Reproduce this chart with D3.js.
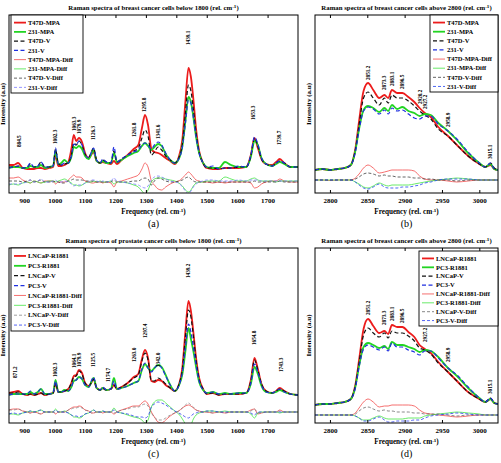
<!DOCTYPE html>
<html><head><meta charset="utf-8">
<script src="https://cdnjs.cloudflare.com/ajax/libs/d3/7.8.5/d3.min.js"></script>
<style>body{margin:0;background:#fff}svg{display:block}</style>
</head><body><svg id="c" width="501" height="463"></svg>
<script>
// ---------- DATA ----------
const lowFreq = [850,865,880,895,910,920,932,945,955,968,982,995,1003,1012,1022,1032,1045,1055,1063,1071,1080,1090,1100,1112,1122,1128,1138,1150,1158,1170,1185,1195,1205,1220,1240,1260,1275,1287,1297,1307,1318,1328,1340,1352,1365,1380,1395,1408,1420,1430,1440,1448,1456,1465,1475,1488,1500,1520,1540,1560,1580,1605,1630,1645,1657,1668,1680,1695,1715,1728,1740,1755,1775,1800];
const highFreq = [2780,2790,2800,2810,2820,2828,2834,2839,2845,2851,2858,2866,2873,2878,2883,2890,2897,2905,2913,2920,2927,2935,2945,2958,2970,2985,3000,3008,3015,3020,3025];
const lowTicks = [900,1000,1100,1200,1300,1400,1500,1600,1700];
const highTicks = [2800,2850,2900,2950,3000];

// (a) breast below 1800
const aT47dMpa = [0.6,0.6,0.8,0.3,0.2,0.2,0.2,0.3,0.3,0.2,0.3,0.4,1.6,0.5,0.5,0.6,0.9,2.2,3.6,3.0,3.3,2.9,1.8,1.3,1.7,1.9,1.0,0.8,0.9,0.8,0.7,1.0,0.7,1.1,1.6,2.2,2.6,4.3,5.6,4.6,2.2,1.9,1.8,1.6,1.3,1.0,0.7,1.4,3.2,7.0,10.3,9.4,7.2,4.2,2.0,0.8,0.3,0.2,0.2,0.3,0.3,0.3,0.4,1.6,3.3,2.3,1.2,0.7,0.6,0.9,1.2,0.8,0.4,0.4];
const a231Mpa = [0.3,0.4,0.4,0.3,0.3,0.5,0.4,0.4,0.6,0.3,0.4,0.5,2.0,0.7,0.8,1.1,0.8,1.4,2.4,2.3,2.5,2.2,1.5,1.2,1.8,2.1,1.0,0.8,1.0,0.8,0.8,1.8,0.9,1.1,1.5,1.8,2.0,2.5,2.8,2.5,2.1,2.4,2.7,2.5,1.7,1.1,0.8,1.2,2.5,5.0,7.4,6.9,5.4,3.4,1.8,0.8,0.4,0.3,0.3,0.9,0.6,0.4,0.4,1.4,3.0,2.6,1.3,0.7,0.5,0.7,0.9,0.7,0.4,0.4];
const aT47dV = [0.4,0.4,0.5,0.3,0.4,0.7,0.4,0.5,0.9,0.4,0.4,0.5,2.2,0.7,0.6,0.7,0.8,1.6,2.8,2.6,3.0,2.6,1.7,1.4,2.0,2.3,1.1,0.8,1.1,0.9,0.8,2.0,0.9,1.2,1.6,2.0,2.3,3.3,4.1,3.5,1.6,1.9,2.4,2.1,1.5,1.1,0.8,1.3,2.7,5.8,8.6,8.0,6.2,3.8,1.9,0.8,0.3,0.3,0.2,0.3,0.3,0.4,0.4,1.5,3.3,2.5,1.2,0.7,0.5,0.8,1.0,0.8,0.4,0.4];
const a231V = [0.3,0.4,0.5,0.3,0.4,0.8,0.4,0.5,0.9,0.4,0.4,0.5,2.3,0.7,0.6,0.8,0.8,1.5,2.7,2.6,3.0,2.6,1.7,1.3,2.0,2.3,1.1,0.8,1.2,0.9,0.8,2.4,0.9,1.2,1.6,1.9,2.1,2.6,2.8,2.6,2.2,2.6,2.9,2.6,1.8,1.1,0.8,1.2,2.4,4.8,7.1,6.8,5.4,3.4,1.8,0.8,0.4,0.5,0.2,0.3,0.3,0.5,0.4,1.6,3.4,2.7,1.3,0.7,0.5,0.8,1.0,0.8,0.4,0.4];
const aT47dMpaDiff = [-0.7,-0.7,-0.6,-0.9,-1.1,-1.2,-1.0,-1.1,-1.2,-1.0,-1.0,-1.0,-1.3,-1.1,-1.1,-1.1,-0.9,-0.6,-0.4,-0.6,-0.6,-0.7,-1.0,-1.1,-1.2,-1.2,-1.1,-1.1,-1.2,-1.1,-1.2,-1.6,-1.1,-1.0,-0.8,-0.6,-0.4,0.2,0.8,0.4,-1.0,-1.4,-1.8,-1.9,-1.6,-1.3,-1.1,-1.0,-0.7,-0.4,-0.1,-0.3,-0.6,-0.9,-1.0,-1.1,-1.1,-1.2,-1.1,-1.2,-1.1,-1.1,-1.1,-1.2,-1.7,-1.6,-1.3,-1.1,-1.0,-1.0,-0.8,-1.0,-1.1,-1.1];
const a231MpaDiff = [-1.4,-1.3,-1.4,-1.2,-1.1,-1.2,-1.0,-1.1,-1.2,-1.1,-1.0,-1.0,-1.1,-1.0,-0.9,-0.8,-1.0,-1.2,-1.4,-1.4,-1.5,-1.4,-1.2,-1.1,-1.1,-1.0,-1.1,-1.0,-1.1,-1.1,-1.0,-1.3,-1.1,-1.1,-1.2,-1.4,-1.6,-2.0,-2.3,-1.9,-1.1,-0.8,-0.7,-0.7,-0.8,-0.9,-1.0,-1.2,-1.5,-1.9,-2.1,-1.9,-1.5,-1.2,-1.1,-1.1,-1.0,-1.0,-1.0,-0.6,-0.8,-1.0,-1.0,-0.8,-0.7,-0.9,-1.0,-1.0,-1.0,-1.1,-1.0,-1.0,-1.0,-1.0];
const aT47dVDiff = [-1.0,-1.0,-1.0,-1.1,-1.0,-0.9,-1.1,-1.0,-0.9,-1.1,-1.1,-1.1,-1.0,-1.1,-1.2,-1.2,-1.0,-0.9,-0.8,-0.9,-0.9,-0.9,-1.0,-1.0,-1.0,-1.0,-1.1,-1.1,-1.1,-1.1,-1.1,-0.9,-1.1,-1.1,-1.1,-1.0,-1.0,-0.8,-0.7,-0.8,-1.4,-1.0,-0.7,-0.8,-1.0,-1.1,-1.1,-1.0,-0.9,-0.7,-0.6,-0.8,-1.0,-1.1,-1.1,-1.1,-1.1,-1.1,-1.1,-1.1,-1.1,-1.1,-1.1,-1.1,-1.0,-1.1,-1.1,-1.1,-1.1,-1.1,-1.0,-1.1,-1.1,-1.1];
const a231VDiff = [-1.3,-1.3,-1.3,-1.2,-1.1,-0.9,-1.1,-1.0,-0.8,-1.1,-1.1,-1.0,-0.9,-1.1,-1.1,-1.0,-1.1,-1.3,-1.5,-1.4,-1.4,-1.4,-1.2,-1.1,-0.9,-0.9,-1.0,-1.1,-1.0,-1.1,-1.0,-0.7,-1.0,-1.1,-1.2,-1.3,-1.4,-1.6,-1.7,-1.5,-0.9,-0.6,-0.5,-0.6,-0.8,-1.0,-1.1,-1.2,-1.6,-2.0,-2.3,-2.0,-1.6,-1.3,-1.1,-1.0,-0.9,-0.9,-1.0,-1.0,-1.0,-0.9,-1.0,-0.9,-0.9,-0.9,-1.0,-1.0,-1.0,-1.0,-1.0,-1.0,-1.0,-1.0];

// (b) breast above 2800
const bT47dMpa = [0.1,0.2,0.1,0.2,0.3,0.6,2.2,5.0,8.0,8.8,8.1,7.3,7.6,7.3,8.1,7.8,7.8,7.4,6.9,6.3,5.8,5.4,4.4,3.5,2.6,1.5,0.7,0.4,0.6,0.2,0.1];
const b231Mpa = [0.1,0.2,0.1,0.2,0.3,0.6,2.0,4.2,6.1,6.5,6.3,5.9,6.3,6.0,6.6,6.2,6.4,6.0,5.8,5.5,5.7,5.6,4.8,4.0,3.1,1.8,0.8,0.4,0.7,0.2,0.1];
const bT47dV = [0.1,0.2,0.1,0.2,0.3,0.6,2.1,4.6,7.3,7.9,7.3,6.6,7.3,6.8,7.6,7.3,7.3,7.0,6.5,6.0,5.6,5.2,4.2,3.5,2.6,1.5,0.7,0.4,0.8,0.3,0.1];
const b231V = [0.1,0.2,0.1,0.2,0.3,0.6,1.9,4.1,6.0,6.4,6.2,5.7,6.1,5.7,6.3,6.0,6.1,5.7,5.3,5.2,5.5,5.5,4.7,4.0,3.2,1.9,0.8,0.4,0.8,0.2,0.1];
const bT47dMpaDiff = [-0.9,-0.9,-0.95,-0.9,-0.9,-0.9,-0.7,-0.3,0.3,0.6,0.3,-0.2,-0.1,0.0,0.1,0.1,0.1,0.1,0.0,-0.5,-0.8,-0.9,-0.9,-1.0,-1.1,-1.0,-0.9,-0.9,-0.9,-0.9,-0.9];
const b231MpaDiff = [-0.9,-0.9,-0.9,-0.9,-0.9,-0.9,-1.1,-1.3,-1.6,-1.7,-1.5,-1.2,-1.4,-1.5,-1.4,-1.4,-1.4,-1.4,-1.3,-1.2,-1.1,-1.0,-0.9,-0.8,-0.7,-0.8,-0.9,-0.9,-0.9,-0.9,-0.9];
const bT47dVDiff = [-0.9,-0.9,-0.9,-0.9,-0.9,-0.9,-0.8,-0.6,-0.3,-0.2,-0.3,-0.5,-0.4,-0.5,-0.5,-0.6,-0.6,-0.6,-0.7,-0.7,-0.8,-0.8,-0.9,-0.9,-1.0,-0.9,-0.9,-0.9,-0.9,-0.9,-0.9];
const b231VDiff = [-0.9,-0.9,-0.9,-0.9,-0.9,-0.9,-1.1,-1.4,-1.7,-1.8,-1.6,-1.3,-1.6,-1.7,-1.7,-1.7,-1.6,-1.6,-1.5,-1.4,-1.2,-1.1,-0.9,-0.8,-0.8,-0.8,-0.9,-0.9,-0.9,-0.9,-0.9];

// (c) prostate below 1800
const cLncapR = [0.4,0.5,0.6,0.3,0.2,0.3,0.2,0.3,0.4,0.2,0.3,0.4,1.4,0.5,0.5,0.6,0.8,1.4,2.1,2.2,2.7,2.4,1.4,1.1,1.5,1.8,0.9,0.7,0.9,0.7,0.8,1.2,0.8,1.0,1.4,2.0,2.3,3.8,4.7,3.9,1.6,1.5,1.7,1.6,1.2,0.9,0.6,1.2,3.0,6.6,9.6,8.6,6.5,3.9,1.9,0.8,0.3,0.4,0.2,0.3,0.3,0.3,0.4,1.7,3.9,2.8,1.3,0.6,0.4,0.6,0.9,0.6,0.3,0.2];
const cPc3R = [0.2,0.3,0.3,0.3,0.3,0.5,0.3,0.5,0.8,0.3,0.3,0.4,1.7,0.5,0.5,0.7,0.6,1.0,1.6,1.7,2.0,1.8,1.2,1.0,1.6,1.9,0.9,0.7,0.9,0.7,0.8,1.9,0.8,0.9,1.1,1.4,1.6,2.7,3.3,2.9,2.6,2.9,3.2,3.0,2.2,1.2,0.6,1.1,2.3,4.6,6.9,5.8,4.6,3.0,1.5,0.7,0.4,0.5,0.3,0.4,0.3,0.4,0.4,1.3,3.0,2.3,1.1,0.5,0.4,0.5,0.7,0.5,0.3,0.2];
const cLncapV = [0.4,0.4,0.5,0.3,0.2,0.3,0.2,0.3,0.4,0.2,0.3,0.4,1.4,0.5,0.5,0.6,0.8,1.4,2.0,2.1,2.6,2.3,1.4,1.1,1.5,1.8,0.9,0.7,0.9,0.7,0.8,1.2,0.8,1.0,1.4,1.9,2.2,3.6,4.4,3.7,1.6,1.6,1.9,1.7,1.3,0.9,0.6,1.2,2.8,6.0,8.7,8.0,6.1,3.7,1.8,0.8,0.3,0.4,0.2,0.3,0.3,0.3,0.4,1.6,3.7,2.7,1.3,0.6,0.4,0.6,0.8,0.6,0.3,0.2];
const cPc3V = [0.2,0.3,0.3,0.3,0.3,0.6,0.3,0.5,0.8,0.3,0.3,0.4,1.6,0.5,0.5,0.6,0.6,1.0,1.6,1.7,2.0,1.8,1.2,1.0,1.7,2.0,0.9,0.7,1.0,0.7,0.8,1.6,0.8,0.9,1.1,1.4,1.6,2.8,3.4,2.9,2.5,2.9,3.2,2.9,2.1,1.2,0.6,1.1,2.5,5.0,7.3,6.5,5.0,3.2,1.6,0.7,0.4,0.5,0.3,0.3,0.3,0.4,0.4,1.4,3.3,2.5,1.2,0.5,0.4,0.6,0.8,0.5,0.3,0.2];
const cLncapRDiff = [-1.3,-1.2,-1.2,-1.4,-1.5,-1.6,-1.5,-1.6,-1.7,-1.5,-1.5,-1.5,-1.7,-1.5,-1.5,-1.5,-1.3,-1.1,-1.0,-1.0,-0.9,-1.0,-1.3,-1.4,-1.6,-1.6,-1.5,-1.5,-1.6,-1.5,-1.5,-1.7,-1.5,-1.3,-1.1,-0.9,-0.9,-0.6,-0.4,-0.7,-1.5,-2.0,-2.5,-2.6,-2.3,-1.9,-1.6,-1.4,-1.1,-0.9,-0.8,-0.9,-1.1,-1.3,-1.4,-1.5,-1.5,-1.6,-1.5,-1.6,-1.5,-1.5,-1.5,-1.3,-1.2,-1.7,-1.6,-1.5,-1.5,-1.5,-1.3,-1.5,-1.5,-1.5];
const cPc3RDiff = [-1.7,-1.7,-1.8,-1.6,-1.5,-1.4,-1.5,-1.4,-1.3,-1.5,-1.5,-1.5,-1.2,-1.5,-1.5,-1.4,-1.6,-1.8,-2.0,-2.0,-2.1,-2.0,-1.7,-1.6,-1.4,-1.3,-1.5,-1.5,-1.4,-1.5,-1.5,-1.1,-1.5,-1.6,-1.8,-2.0,-2.1,-2.3,-2.6,-2.3,-1.0,-0.5,-0.3,-0.3,-0.6,-1.0,-1.4,-1.7,-2.2,-2.7,-3.0,-2.8,-2.2,-1.8,-1.6,-1.5,-1.4,-1.4,-1.5,-1.4,-1.5,-1.5,-1.5,-1.7,-2.1,-1.6,-1.5,-1.5,-1.5,-1.5,-1.6,-1.5,-1.5,-1.5];
const cLncapVDiff = [-1.3,-1.3,-1.2,-1.4,-1.5,-1.6,-1.5,-1.6,-1.7,-1.5,-1.5,-1.5,-1.6,-1.5,-1.5,-1.5,-1.3,-1.2,-1.1,-1.1,-1.0,-1.1,-1.3,-1.4,-1.6,-1.6,-1.5,-1.5,-1.6,-1.5,-1.5,-1.6,-1.5,-1.3,-1.2,-1.0,-1.0,-0.8,-0.7,-0.9,-1.6,-2.0,-2.3,-2.3,-2.1,-1.8,-1.6,-1.4,-1.1,-0.8,-0.6,-0.8,-1.0,-1.3,-1.4,-1.5,-1.5,-1.6,-1.5,-1.6,-1.5,-1.5,-1.5,-1.4,-1.2,-1.6,-1.6,-1.5,-1.5,-1.5,-1.4,-1.5,-1.5,-1.5];
const cPc3VDiff = [-1.7,-1.6,-1.7,-1.6,-1.5,-1.4,-1.5,-1.4,-1.3,-1.5,-1.5,-1.5,-1.3,-1.5,-1.5,-1.5,-1.6,-1.8,-1.9,-1.9,-2.0,-1.9,-1.7,-1.6,-1.4,-1.3,-1.5,-1.5,-1.4,-1.5,-1.5,-1.3,-1.5,-1.6,-1.7,-1.9,-2.0,-2.0,-2.1,-1.9,-1.0,-0.7,-0.5,-0.6,-0.8,-1.1,-1.4,-1.6,-1.8,-2.0,-2.1,-1.9,-1.7,-1.6,-1.5,-1.5,-1.4,-1.4,-1.5,-1.5,-1.5,-1.5,-1.5,-1.6,-1.8,-1.5,-1.5,-1.5,-1.5,-1.5,-1.5,-1.5,-1.5,-1.5];

// (d) prostate above 2800
const dLncapR = [0.0,0.1,0.1,0.2,0.3,0.6,2.0,4.5,7.6,8.6,7.9,7.2,7.4,7.1,8.0,7.8,7.8,7.3,6.8,6.0,5.6,5.2,4.3,3.3,2.4,1.3,0.6,0.3,0.6,0.2,0.1];
const dPc3R = [0.0,0.1,0.1,0.2,0.3,0.6,1.8,3.9,5.8,6.2,6.0,5.7,5.9,5.6,6.3,6.0,6.0,5.8,5.6,5.3,5.5,5.4,4.8,3.7,2.9,1.7,0.7,0.3,0.6,0.2,0.1];
const dLncapV = [0.0,0.1,0.1,0.2,0.3,0.6,1.9,4.2,7.0,7.7,7.2,6.8,7.2,6.7,7.4,7.2,7.2,6.9,6.4,5.7,5.5,5.1,4.2,3.3,2.4,1.3,0.6,0.3,0.7,0.2,0.1];
const dPc3V = [0.0,0.1,0.1,0.2,0.3,0.6,1.7,3.8,5.6,6.0,5.8,5.5,5.8,5.4,6.2,5.8,5.8,5.5,5.3,5.0,5.4,5.4,4.7,3.7,3.0,1.8,0.7,0.3,0.7,0.2,0.1];
const dLncapRDiff = [-1.0,-1.0,-1.0,-1.0,-1.0,-1.0,-0.8,-0.3,0.3,0.6,0.3,-0.2,-0.1,-0.1,0.0,0.0,0.0,0.0,-0.1,-0.5,-0.8,-0.9,-1.0,-1.1,-1.2,-1.1,-1.0,-1.0,-1.0,-1.0,-1.0];
const dPc3RDiff = [-1.0,-1.0,-1.0,-1.0,-1.0,-1.0,-1.1,-1.3,-1.5,-1.5,-1.3,-1.1,-1.3,-1.4,-1.4,-1.4,-1.4,-1.3,-1.3,-1.3,-1.1,-1.0,-0.9,-0.8,-0.7,-0.8,-0.9,-1.0,-1.0,-1.0,-1.0];
const dLncapVDiff = [-1.0,-1.0,-1.0,-1.0,-1.0,-1.0,-0.9,-0.6,-0.3,-0.2,-0.4,-0.6,-0.5,-0.6,-0.6,-0.7,-0.7,-0.7,-0.8,-0.8,-0.9,-0.9,-0.9,-1.0,-1.1,-1.0,-1.0,-1.0,-1.0,-1.0,-1.0];
const dPc3VDiff = [-1.0,-1.0,-1.0,-1.0,-1.0,-1.0,-1.1,-1.3,-1.6,-1.6,-1.4,-1.2,-1.5,-1.7,-1.7,-1.6,-1.6,-1.6,-1.5,-1.5,-1.3,-1.1,-1.0,-0.9,-0.8,-0.9,-1.0,-1.0,-1.0,-1.0,-1.0];

// legends
const legendA = ["T47D-MPA","231-MPA","T47D-V","231-V","T47D-MPA-Diff","231-MPA-Diff","T47D-V-Diff","231-V-Diff"];
const legendC = ["LNCaP-R1881","PC3-R1881","LNCaP-V","PC3-V","LNCaP-R1881-Diff","PC3-R1881-Diff","LNCaP-V-Diff","PC3-V-Diff"];

// titles
const titles = ["Raman spectra of breast cancer cells below 1800 (rel. cm",
                "Raman spectra of breast cancer cells above 2800 (rel. cm",
                "Raman spectra of prostate cancer cells below 1800 (rel. cm",
                "Raman spectra of breast cancer cells above 2800 (rel. cm"];
const panelTags = ["(a)","(b)","(c)","(d)"];

// peak labels
const peaksA = ["884.5","1002.3","1063.3","1079.9","1126.3","1261.8","1295.8","1341.6","1439.1","1653.3","1739.7"];
const peaksAx = [884.5,1002.3,1063.3,1079.9,1126.3,1261.8,1295.8,1341.6,1439.1,1653.3,1739.7];
const peaksAy = [2.4,2.7,4.0,3.7,3.1,3.4,5.9,3.2,12.6,5.1,2.6];
const peaksB = ["2851.2","2873.3","2883.1","2896.5","2920.2","2927.2","2958.9","3015.1"];
const peaksBx = [2851.2,2873.3,2883.1,2896.5,2920.2,2927.2,2958.9,3015.1];
const peaksBy = [9.1,8.1,8.5,8.2,6.7,6.2,4.4,1.2];
const peaksC = ["871.2","1002.3","1064.1","1079.9","1125.5","1174.7","1263.0","1297.4","1342.0","1439.2","1654.8","1743.3"];
const peaksCx = [871.2,1002.3,1064.1,1079.9,1125.5,1174.7,1263.0,1297.4,1342.0,1439.2,1654.8,1743.3];
const peaksCy = [1.9,2.0,2.9,3.0,3.0,1.5,3.5,5.9,3.0,11.9,5.2,2.5];
const peaksD = ["2851.2","2873.3","2883.1","2896.5","2927.2","2958.9","3015.1"];
const peaksDx = [2851.2,2873.3,2883.1,2896.5,2927.2,2958.9,3015.1];
const peaksDy = [9.0,8.0,8.4,8.2,6.3,4.3,1.1];

// ---------- DRAW ----------
const svg = d3.select("#c");
const FONT = "'Liberation Serif','Times New Roman',serif";

const styles = [
  {c:"#ec1c1c", w:1.8, d:null},
  {c:"#22d422", w:1.8, d:null},
  {c:"#111111", w:1.2, d:"4,2.5"},
  {c:"#1f2fe0", w:1.2, d:"4,2.5"},
  {c:"#f24a4a", w:0.8, d:null},
  {c:"#44e444", w:0.8, d:null},
  {c:"#222222", w:0.7, d:"3,2"},
  {c:"#7a7aff", w:0.8, d:"3,2"}
];

const panels = [
  {id:"a", box:[9,298,15,193], xd:[850,1800], yd:[-2.2,15.6], freq:lowFreq, ticks:lowTicks,
   series:[aT47dMpa,a231Mpa,aT47dV,a231V,aT47dMpaDiff,a231MpaDiff,aT47dVDiff,a231VDiff],
   names:legendA, leg:{x:11,y:15,w:72,h:78,pos:"left"}, diffBlue:"#7a7aff", diffBlack:"#222",
   title:titles[0], tag:panelTags[0], pl:peaksA, px:peaksAx, py:peaksAy, titleX:148},
  {id:"b", box:[315,498,15,193], xd:[2780,3025], yd:[-2.2,15.6], freq:highFreq, ticks:highTicks,
   series:[bT47dMpa,b231Mpa,bT47dV,b231V,bT47dMpaDiff,b231MpaDiff,bT47dVDiff,b231VDiff],
   names:legendA, leg:{x:430,y:15,w:68,h:77}, diffBlue:"#2040f0", diffBlack:"#222",
   title:titles[1], tag:panelTags[1], pl:peaksB, px:peaksBx, py:peaksBy, titleX:404},
  {id:"c", box:[9,298,248,423], xd:[850,1800], yd:[-2.6,14.9], freq:lowFreq, ticks:lowTicks,
   series:[cLncapR,cPc3R,cLncapV,cPc3V,cLncapRDiff,cPc3RDiff,cLncapVDiff,cPc3VDiff],
   names:legendC, leg:{x:11,y:248,w:73,h:83}, diffBlue:"#2a3cf0", diffBlack:"#777",
   title:titles[2], tag:panelTags[2], pl:peaksC, px:peaksCx, py:peaksCy, titleX:148},
  {id:"d", box:[315,498,248,423], xd:[2780,3025], yd:[-1.8,15.7], freq:highFreq, ticks:highTicks,
   series:[dLncapR,dPc3R,dLncapV,dPc3V,dLncapRDiff,dPc3RDiff,dLncapVDiff,dPc3VDiff],
   names:legendC, leg:{x:419,y:251,w:79,h:75}, diffBlue:"#2a3cf0", diffBlack:"#555",
   title:titles[3], tag:panelTags[3], pl:peaksD, px:peaksDx, py:peaksDy, titleX:404}
];

function styleFor(p, i) {
  const s = Object.assign({}, styles[i]);
  if (i === 7) s.c = p.diffBlue;
  if (i === 6) s.c = p.diffBlack;
  return s;
}

panels.forEach(p => {
  const [L,R,T,B] = p.box;
  const x = d3.scaleLinear().domain(p.xd).range([L,R]);
  const y = d3.scaleLinear().domain(p.yd).range([B,T]);
  const g = svg.append("g");
  const clipId = "clip-" + p.id;
  svg.append("clipPath").attr("id", clipId).append("rect")
    .attr("x", L).attr("y", T).attr("width", R-L).attr("height", B-T);

  // lines
  const line = d3.line().x(d => x(d[0])).y(d => y(d[1])).curve(d3.curveMonotoneX);
  const lg = g.append("g").attr("clip-path", `url(#${clipId})`);
  const order = [4,5,6,7,0,1,2,3];
  order.forEach(i => {
    const s = styleFor(p, i);
    const pts = p.freq.map((f, k) => [f, p.series[i][k]]);
    lg.append("path").attr("d", line(pts)).attr("fill","none")
      .attr("stroke", s.c).attr("stroke-width", s.w)
      .attr("stroke-dasharray", s.d).attr("stroke-linejoin","round");
  });

  // frame
  g.append("rect").attr("x", L).attr("y", T).attr("width", R-L).attr("height", B-T)
    .attr("fill","none").attr("stroke","#000").attr("stroke-width",1);

  // axes (bottom + top ticks inward)
  const xb = d3.axisBottom(x).tickValues(p.ticks).tickSize(-3).tickPadding(5).tickFormat(d3.format("d"));
  const ga = g.append("g").attr("transform", `translate(0,${B})`).call(xb);
  ga.select(".domain").remove();
  ga.selectAll("text").attr("font-family", FONT).attr("font-size", 7).attr("font-weight","bold").attr("fill","#000");
  const xt = d3.axisTop(x).tickValues(p.ticks).tickSize(-3).tickFormat("");
  const gt = g.append("g").attr("transform", `translate(0,${T})`).call(xt);
  gt.select(".domain").remove();

  // peak labels
  p.pl.forEach((t, k) => {
    const px = x(p.px[k]), py = y(p.py[k]);
    g.append("text").attr("transform", `translate(${px+1.8},${py}) rotate(-90)`)
      .attr("font-family", FONT).attr("font-size", 5.2).attr("font-weight","bold")
      .attr("text-anchor","start").text(t);
  });

  // title
  const tt = g.append("text").attr("x", (L+R)/2).attr("y", T-5).attr("text-anchor","middle")
    .attr("font-family", FONT).attr("font-size", 6.8).attr("font-weight","bold");
  tt.append("tspan").text(p.title);
  tt.append("tspan").attr("dy", -2.5).attr("font-size", 5).text("-1");
  tt.append("tspan").attr("dy", 2.5).text(")");

  // x label
  const xl = g.append("text").attr("x", (L+R)/2).attr("y", B+21).attr("text-anchor","middle")
    .attr("font-family", FONT).attr("font-size", 7.2).attr("font-weight","bold");
  xl.append("tspan").text("Frequency (rel. cm");
  xl.append("tspan").attr("dy", -2.5).attr("font-size", 5).text("-1");
  xl.append("tspan").attr("dy", 2.5).text(")");

  // y label
  g.append("text").attr("transform", `translate(${L-4},${(T+B)/2}) rotate(-90)`)
    .attr("text-anchor","middle").attr("font-family", FONT).attr("font-size", 7)
    .attr("font-weight","bold").text("Intensity (a.u)");

  // panel tag
  g.append("text").attr("x", (L+R)/2).attr("y", B+34).attr("text-anchor","middle")
    .attr("font-family", FONT).attr("font-size", 10).text(p.tag);

  // legend
  const lgd = g.append("g");
  lgd.append("rect").attr("x", p.leg.x).attr("y", p.leg.y).attr("width", p.leg.w).attr("height", p.leg.h)
    .attr("fill","#fff").attr("stroke","#000").attr("stroke-width",0.9);
  const rowH = (p.leg.h - 4) / 8;
  p.names.forEach((n, i) => {
    const s = styleFor(p, i);
    const cy = p.leg.y + 2 + rowH*(i+0.5) + 1;
    lgd.append("line").attr("x1", p.leg.x+3).attr("x2", p.leg.x+15).attr("y1", cy).attr("y2", cy)
      .attr("stroke", s.c).attr("stroke-width", s.w).attr("stroke-dasharray", s.d);
    lgd.append("text").attr("x", p.leg.x+17).attr("y", cy+2.2)
      .attr("font-family", FONT).attr("font-size", 6.5).attr("font-weight","bold").text(n);
  });
});
</script>
</body></html>
